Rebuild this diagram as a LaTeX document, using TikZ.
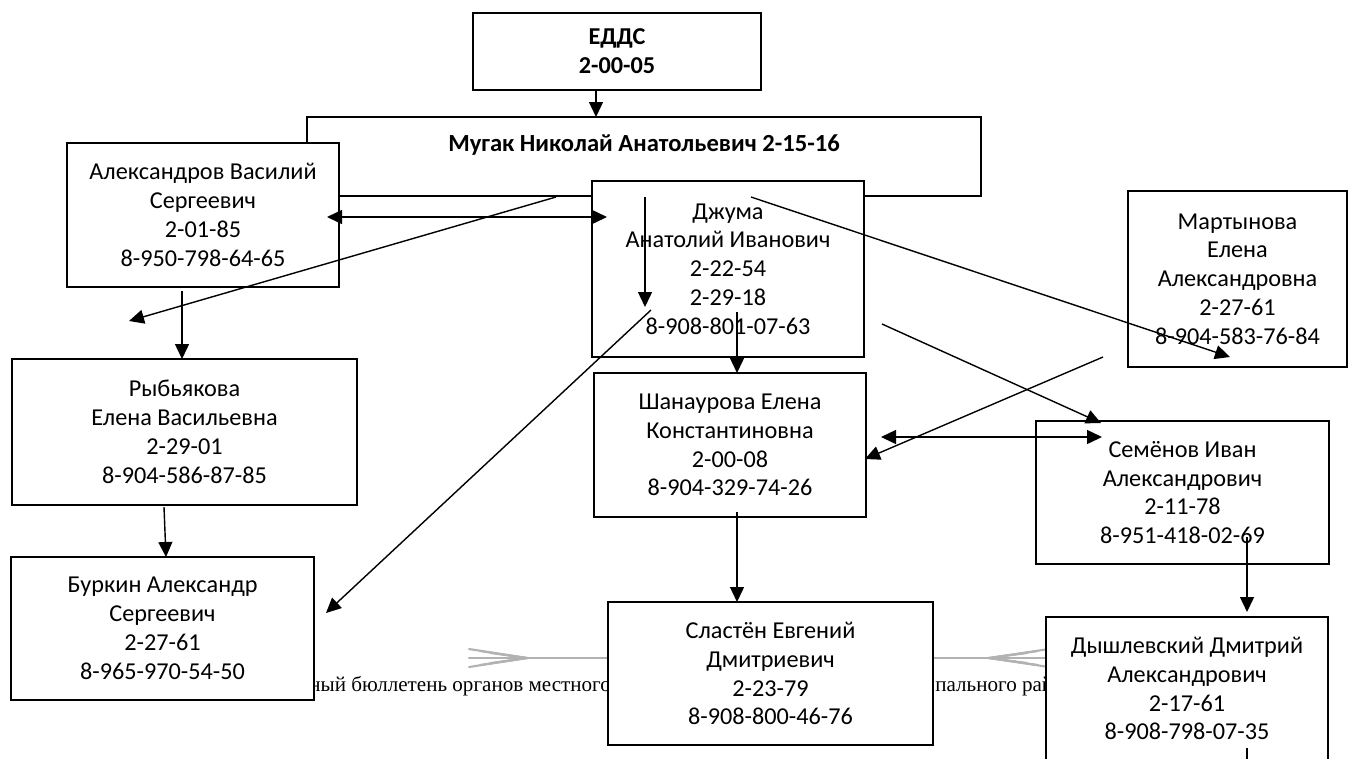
\documentclass[tikz,border=0pt]{standalone}
\usepackage{fontspec}
\setmainfont{Carlito}
\newfontfamily\footfont{Liberation Serif}
\usetikzlibrary{arrows.meta}

\begin{document}
\begin{tikzpicture}[x=0.02cm, y=-0.02cm,
    person/.style={draw, fill=white, line width=1pt, align=center, inner sep=0pt,
      font=\fontsize{13.8}{16.4}\selectfont},
    arr/.style={-{Triangle[length=0.3cm, width=0.28cm]}, line width=0.8pt},
    dblarr/.style={{Triangle[length=0.3cm, width=0.28cm]}-{Triangle[length=0.3cm, width=0.28cm]}, line width=0.8pt},
    orn/.style={gray!60, line width=1.2pt, line cap=round},
    foot/.style={font=\footfont\fontsize{12}{14}\selectfont, inner sep=0pt}]

    % Page size
    \useasboundingbox (0,0) rectangle (1351,758);
    \clip (0,0) rectangle (1351,758);

    % Footer of the page, behind the chart
    \draw[orn] (469,658) -- (609,658);
    \foreach \s in {0,1,2} { \draw[orn] (469+\s*11,649+\s*2) -- (527,658) -- (469+\s*11,667-\s*2); }
    \draw[orn] (933,658) -- (1046,658);
    \foreach \s in {0,1,2} { \draw[orn] (1049-\s*11,649+\s*2) -- (989,658) -- (1049-\s*11,667-\s*2); }
    \node[foot, anchor=base west] (bul1) at (309,691) {ный бюллетень органов местного};
    \node[foot, anchor=base west] (bul2) at (935,691) {пального рай};

    % Boxes
    \node[person, minimum width=5.76cm, minimum height=1.54cm] (edds) at (617,51.5) {\textbf{ЕДДС}\\\textbf{2-00-05}};
    \node[person, minimum width=13.48cm, minimum height=1.58cm] (mugak) at (644,156.5) {};
    \node[font=\fontsize{14}{16.6}\selectfont\bfseries] (mugakname) at (644,145) {Мугак Николай Анатольевич 2-15-16};
    \node[person, minimum width=5.44cm, minimum height=2.88cm] (aleks) at (203,215) {Александров Василий\\Сергеевич\\2-01-85\\8-950-798-64-65};
    \node[person, minimum width=5.44cm, minimum height=3.52cm] (dzhuma) at (728,269) {Джума\\Анатолий Иванович\\2-22-54\\2-29-18\\8-908-801-07-63};
    \node[person, minimum width=4.38cm, minimum height=3.52cm] (martyn) at (1237.5,279) {Мартынова\\Елена\\Александровна\\2-27-61\\8-904-583-76-84};
    \node[person, minimum width=6.9cm, minimum height=2.92cm] (ryb) at (184.5,432) {Рыбьякова\\Елена Васильевна\\2-29-01\\8-904-586-87-85};
    \node[person, minimum width=5.44cm, minimum height=2.88cm] (shan) at (730,445) {Шанаурова Елена\\Константиновна\\2-00-08\\8-904-329-74-26};
    \node[person, minimum width=5.86cm, minimum height=2.86cm] (semen) at (1182.5,492.5) {Семёнов Иван\\Александрович\\2-11-78\\8-951-418-02-69};
    \node[person, minimum width=6.06cm, minimum height=2.86cm] (burkin) at (162.5,628.5) {Буркин Александр\\Сергеевич\\2-27-61\\8-965-970-54-50};
    \node[person, minimum width=6.5cm, minimum height=2.86cm] (slast) at (770.5,673.5) {Сластён Евгений\\Дмитриевич\\2-23-79\\8-908-800-46-76};
    \node[person, minimum width=5.64cm, minimum height=2.86cm] (dyshl) at (1187,688.5) {Дышлевский Дмитрий\\Александрович\\2-17-61\\8-908-798-07-35};

    % Ends of the connectors
    \coordinate (e1) at (596,90);    \coordinate (m1) at (596,117);
    \coordinate (a1) at (327,217);   \coordinate (d1) at (607,217);
    \coordinate (m2) at (556,197);   \coordinate (free1) at (129,321);
    \coordinate (a2) at (182,291);   \coordinate (r1) at (182,359);
    \coordinate (r2) at (164,507);   \coordinate (b1) at (166,557);
    \coordinate (d2) at (645,197);   \coordinate (d3) at (645,307);
    \coordinate (d4) at (651,310);   \coordinate (b2) at (326,613);
    \coordinate (d5) at (737,312);   \coordinate (s1) at (737,373);
    \coordinate (d6) at (751,197);   \coordinate (mt1) at (1230,357);
    \coordinate (free2) at (882,324); \coordinate (sm1) at (1101,423);
    \coordinate (free3) at (1103,357); \coordinate (s2) at (865,459);
    \coordinate (s3) at (881,437);   \coordinate (sm2) at (1102,437);
    \coordinate (s4) at (737,512);   \coordinate (sl1) at (737,602);
    \coordinate (sm3) at (1247,537); \coordinate (dy1) at (1247,612);
    \coordinate (dy2) at (1247,748); \coordinate (free4) at (1247,760);

    % Connectors
    \draw[arr] (e1) -- (m1);
    \draw[dblarr] (a1) -- (d1);
    \draw[arr] (m2) -- (free1);
    \draw[arr] (a2) -- (r1);
    \draw[arr] (r2) -- (b1);
    \draw[arr] (d2) -- (d3);
    \draw[arr] (d4) -- (b2);
    \draw[arr] (d5) -- (s1);
    \draw[arr] (d6) -- (mt1);
    \draw[arr] (free2) -- (sm1);
    \draw[arr] (free3) -- (s2);
    \draw[dblarr] (s3) -- (sm2);
    \draw[arr] (s4) -- (sl1);
    \draw[arr] (sm3) -- (dy1);
    \draw[line width=0.8pt] (dy2) -- (free4);
\end{tikzpicture}
\end{document}
